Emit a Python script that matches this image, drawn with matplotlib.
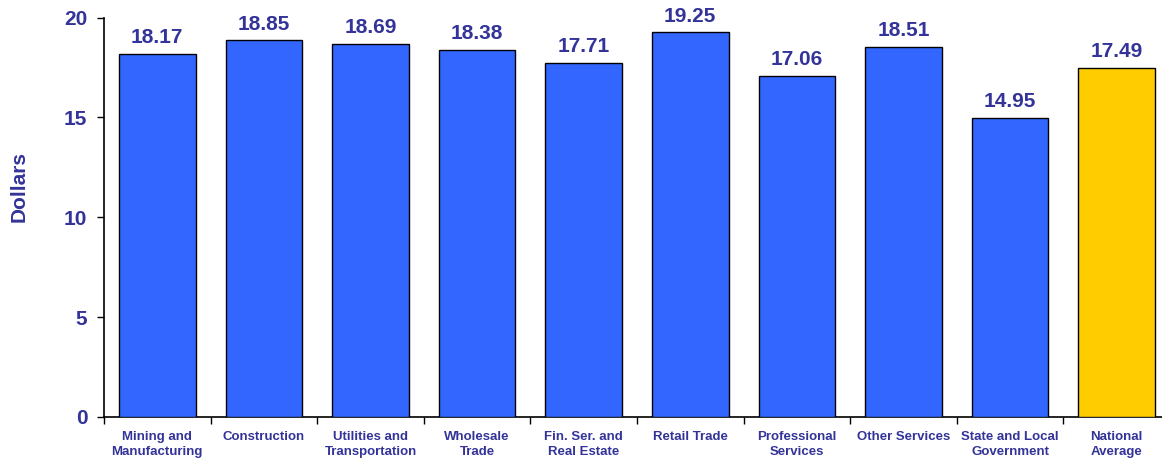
import matplotlib
matplotlib.use("Agg")
import matplotlib.pyplot as plt
import numpy as np

categories = ["Mining and\nManufacturing", "Construction", "Utilities and\nTransportation",
              "Wholesale\nTrade", "Fin. Ser. and\nReal Estate", "Retail Trade",
              "Professional\nServices", "Other Services", "State and Local\nGovernment",
              "National\nAverage"]
values = [18.17, 18.85, 18.69, 18.38, 17.71, 19.25, 17.06, 18.51, 14.95, 17.49]
bar_colors = ["#3366FF"] * 9 + ["#FFCC00"]
yticks = [0, 5, 10, 15, 20]
ylabel = "Dollars"

text_color = "#333399"
plt.rcParams['font.family'] = ['Liberation Sans', 'DejaVu Sans']
plt.rcParams['font.weight'] = 'bold'

W, H = 1162, 463
fig = plt.figure(figsize=(W / 100, H / 100), dpi=100)
left, right, bottom, top = 104, 1170, 417, 17.5
ax = fig.add_axes([left / W, (H - bottom) / H, (right - left) / W, (bottom - top) / H])

x = np.arange(len(categories))
bars = ax.bar(x, values, width=0.72, color=bar_colors, edgecolor="black", linewidth=1.0, zorder=3)

for xi, v in zip(x, values):
    ax.annotate(f"{v:.2f}", (xi, v), xytext=(0, 5), textcoords="offset points",
                ha="center", va="bottom", fontsize=15, fontweight="bold", color=text_color)

ax.set_xlim(-0.5, len(categories) - 0.5)
ax.set_ylim(0, 20)
ax.set_yticks(yticks)
ax.set_yticklabels([str(t) for t in yticks])
ax.tick_params(axis="y", direction="out", length=5, width=1, pad=7, labelsize=15,
               labelcolor=text_color)

ax.set_xticks(x)
ax.set_xticklabels(categories, fontsize=9.5, fontweight="bold", color=text_color, linespacing=1.35)
ax.tick_params(axis="x", which="major", length=0, pad=10)
ax.set_xticks(np.arange(len(categories) + 1) - 0.5, minor=True)
ax.tick_params(axis="x", which="minor", direction="out", length=5, width=1)

for s in ["top", "right"]:
    ax.spines[s].set_visible(False)
ax.spines["left"].set_linewidth(1.2)
ax.spines["bottom"].set_linewidth(1.2)

ax.set_ylabel(ylabel, fontsize=15, fontweight="bold", color=text_color)
ax.yaxis.set_label_coords((29 - left) / (right - left), (bottom - 186) / (bottom - top))

fig.savefig("out.png", dpi=100)
